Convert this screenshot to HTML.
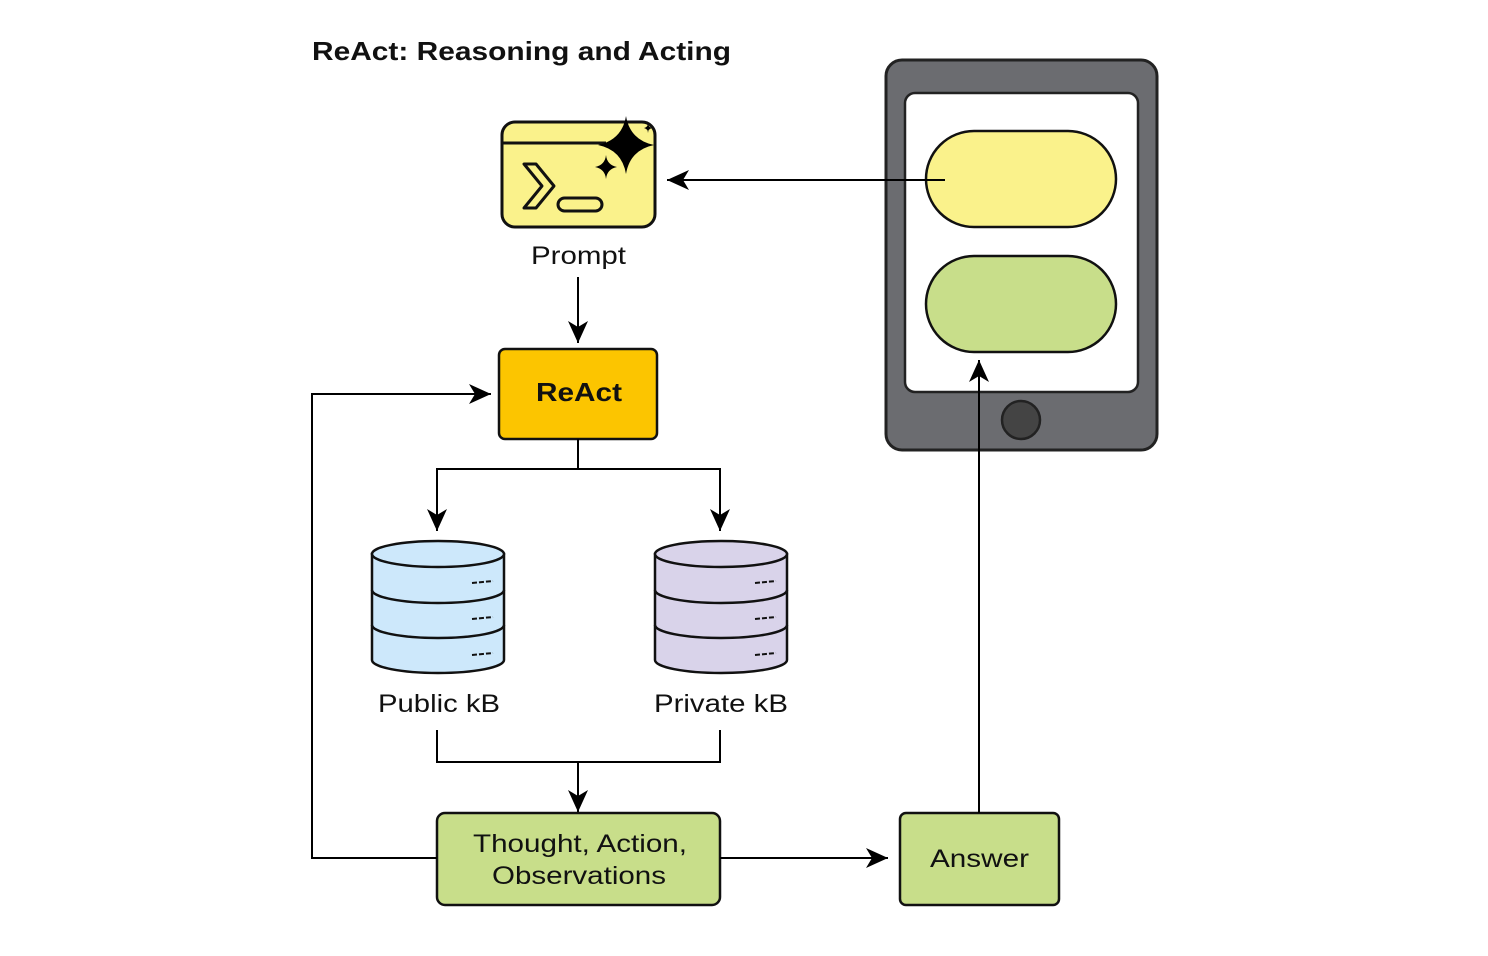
<!DOCTYPE html>
<html><head><meta charset="utf-8"><style>
html,body{margin:0;padding:0;background:#fff;width:1488px;height:956px;overflow:hidden}
text{font-family:"Liberation Sans",Arial,sans-serif}
</style></head><body>
<svg width="1488" height="956" viewBox="0 0 1488 956" xmlns="http://www.w3.org/2000/svg">
<defs>
<marker id="b" markerWidth="24" markerHeight="20" refX="22" refY="10" orient="auto" markerUnits="userSpaceOnUse">
<path d="M0,0 L22,10 L0,20 L6,10 Z" fill="#000"/></marker>
</defs>
<text x="312" y="60" font-size="26" font-weight="bold" fill="#111" textLength="419" lengthAdjust="spacingAndGlyphs">ReAct: Reasoning and Acting</text>

<!-- prompt icon -->
<rect x="502" y="122" width="153" height="105" rx="13" fill="#faf28b" stroke="#111" stroke-width="3"/>
<line x1="502" y1="143" x2="606" y2="143" stroke="#111" stroke-width="3"/>
<path d="M524,164 L536,164 L554,186 L536,208 L524,208 L542,186 Z" fill="none" stroke="#111" stroke-width="3" stroke-linejoin="round"/>
<rect x="558" y="198" width="44" height="13" rx="6.5" fill="none" stroke="#111" stroke-width="3"/>
<path d="M626,116 Q630,140 654,145 Q630,150 626,174 Q622,150 598,145 Q622,140 626,116 Z" fill="#000"/>
<path d="M606,155 Q607,165 617,167 Q607,169 606,179 Q605,169 595,167 Q605,165 606,155 Z" fill="#000"/>
<path d="M648,123 Q648,127 652,128 Q648,129 648,133 Q648,129 644,128 Q648,127 648,123 Z" fill="#000"/>
<text x="531" y="264" font-size="25" fill="#111" textLength="95" lengthAdjust="spacingAndGlyphs">Prompt</text>
<line x1="578" y1="277" x2="578" y2="343" stroke="#000" stroke-width="2" marker-end="url(#b)"/>

<!-- ReAct -->
<rect x="499" y="349" width="158" height="90" rx="6" fill="#fcc500" stroke="#111" stroke-width="2.5"/>
<text x="536" y="401" font-size="26" font-weight="bold" fill="#111" textLength="86" lengthAdjust="spacingAndGlyphs">ReAct</text>

<!-- phone -->
<rect x="886" y="60" width="271" height="390" rx="16" fill="#6b6c70" stroke="#222" stroke-width="3"/>
<rect x="905" y="93" width="233" height="299" rx="10" fill="#fff" stroke="#222" stroke-width="2.5"/>
<rect x="926" y="131" width="190" height="96" rx="48" fill="#faf28b" stroke="#111" stroke-width="2.5"/>
<rect x="926" y="256" width="190" height="96" rx="48" fill="#c8de8a" stroke="#111" stroke-width="2.5"/>
<circle cx="1021" cy="420" r="19" fill="#444" stroke="#222" stroke-width="2.5"/>
<line x1="945" y1="180" x2="667" y2="180" stroke="#000" stroke-width="2" marker-end="url(#b)"/>

<!-- branch -->
<polyline points="578,439 578,469" fill="none" stroke="#000" stroke-width="2"/>
<polyline points="437,530 437,469 720,469 720,530" fill="none" stroke="#000" stroke-width="2"/>
<line x1="437" y1="500" x2="437" y2="531" stroke="#000" stroke-width="2" marker-end="url(#b)"/>
<line x1="720" y1="500" x2="720" y2="531" stroke="#000" stroke-width="2" marker-end="url(#b)"/>

<!-- cylinders -->
<g stroke="#111" stroke-width="2.5">
<path d="M372,554 L372,660 A66,13 0 0 0 504,660 L504,554 Z" fill="#cde8fb"/>
<ellipse cx="438" cy="554" rx="66" ry="13" fill="#cde8fb"/>
<path d="M372,590 A66,13 0 0 0 504,590 M372,625 A66,13 0 0 0 504,625" fill="none"/>
<path d="M655,554 L655,660 A66,13 0 0 0 787,660 L787,554 Z" fill="#d9d3ea"/>
<ellipse cx="721" cy="554" rx="66" ry="13" fill="#d9d3ea"/>
<path d="M655,590 A66,13 0 0 0 787,590 M655,625 A66,13 0 0 0 787,625" fill="none"/>
</g>
<g stroke="#111" stroke-width="2" stroke-dasharray="5,2">
<line x1="472" y1="583" x2="493" y2="581"/><line x1="472" y1="619" x2="493" y2="617"/><line x1="472" y1="655" x2="493" y2="653"/>
<line x1="755" y1="583" x2="776" y2="581"/><line x1="755" y1="619" x2="776" y2="617"/><line x1="755" y1="655" x2="776" y2="653"/>
</g>
<text x="378" y="712" font-size="25" fill="#111" textLength="122" lengthAdjust="spacingAndGlyphs">Public kB</text>
<text x="654" y="712" font-size="25" fill="#111" textLength="134" lengthAdjust="spacingAndGlyphs">Private kB</text>

<polyline points="437,730 437,762 720,762 720,730" fill="none" stroke="#000" stroke-width="2"/>
<line x1="578" y1="762" x2="578" y2="812" stroke="#000" stroke-width="2" marker-end="url(#b)"/>

<!-- thought -->
<rect x="437" y="813" width="283" height="92" rx="8" fill="#c8de8a" stroke="#111" stroke-width="2.5"/>
<text x="473" y="852" font-size="25" fill="#111" textLength="214" lengthAdjust="spacingAndGlyphs">Thought, Action,</text>
<text x="492" y="884" font-size="25" fill="#111" textLength="174" lengthAdjust="spacingAndGlyphs">Observations</text>
<polyline points="437,858 312,858 312,394 491,394" fill="none" stroke="#000" stroke-width="2" marker-end="url(#b)"/>
<line x1="720" y1="858" x2="888" y2="858" stroke="#000" stroke-width="2" marker-end="url(#b)"/>

<rect x="900" y="813" width="159" height="92" rx="6" fill="#c8de8a" stroke="#111" stroke-width="2.5"/>
<text x="930" y="867" font-size="25" fill="#111" textLength="99" lengthAdjust="spacingAndGlyphs">Answer</text>
<line x1="979" y1="813" x2="979" y2="360" stroke="#000" stroke-width="2" marker-end="url(#b)"/>
</svg>
</body></html>
